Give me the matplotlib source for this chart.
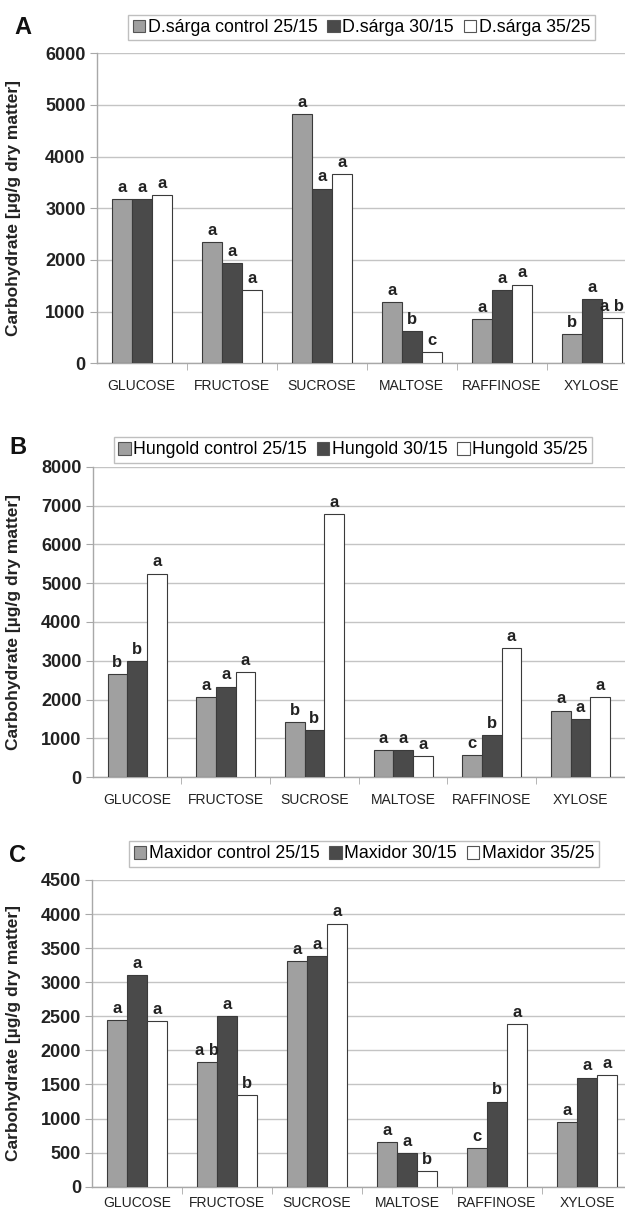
import matplotlib
matplotlib.use("Agg")
import matplotlib.pyplot as plt
from matplotlib.patches import Patch
import numpy as np

plt.rcParams['font.family'] = ['Liberation Sans', 'DejaVu Sans']

categories = ["GLUCOSE", "FRUCTOSE", "SUCROSE", "MALTOSE", "RAFFINOSE", "XYLOSE"]

# Panel A: D.sárga
a_series = ["D.sárga control 25/15", "D.sárga 30/15", "D.sárga 35/25"]
a_control = [3180, 2340, 4830, 1190, 855, 560]
a_30 = [3180, 1945, 3380, 625, 1410, 1235]
a_35 = [3250, 1410, 3670, 215, 1525, 880]
a_letters = [["a", "a", "a", "a", "a", "b"],
             ["a", "a", "a", "b", "a", "a"],
             ["a", "a", "a", "c", "a", "a b"]]

# Panel B: Hungold
b_series = ["Hungold control 25/15", "Hungold 30/15", "Hungold 35/25"]
b_control = [2660, 2070, 1430, 710, 575, 1720]
b_30 = [2990, 2335, 1215, 695, 1085, 1505]
b_35 = [5245, 2710, 6790, 555, 3330, 2060]
b_letters = [["b", "a", "b", "a", "c", "a"],
             ["b", "a", "b", "a", "b", "a"],
             ["a", "a", "a", "a", "a", "a"]]

# Panel C: Maxidor
c_series = ["Maxidor control 25/15", "Maxidor 30/15", "Maxidor 35/25"]
c_control = [2450, 1825, 3310, 650, 565, 950]
c_30 = [3105, 2505, 3380, 497, 1250, 1600]
c_35 = [2430, 1345, 3860, 225, 2380, 1640]
c_letters = [["a", "a b", "a", "a", "c", "a"],
             ["a", "a", "a", "a", "b", "a"],
             ["a", "b", "a", "b", "a", "a"]]

colors = ["#a0a0a0", "#4a4a4a", "#ffffff"]
edge = "#3a3a3a"
grid_c = "#c4c4c4"

W, H = 625, 1214
fig = plt.figure(figsize=(W / 100, H / 100), dpi=100)


def px_axes(left, top, right, bottom):
    return [left / W, 1 - bottom / H, (right - left) / W, (bottom - top) / H]


panels = [
    dict(rect=px_axes(96.7, 53.3, 636.7, 363.3), data=[a_control, a_30, a_35], letters=a_letters,
         series=a_series, ymax=6000, step=1000, label="A", lab_xy=(23, 28),
         leg=((130 + 593) / 2, 27.5), xpad=11),
    dict(rect=px_axes(92.7, 466.7, 624.7, 777.3), data=[b_control, b_30, b_35], letters=b_letters,
         series=b_series, ymax=8000, step=1000, label="B", lab_xy=(18, 447),
         leg=((117 + 589) / 2, 450), xpad=11),
    dict(rect=px_axes(92, 880, 632, 1186.7), data=[c_control, c_30, c_35], letters=c_letters,
         series=c_series, ymax=4500, step=500, label="C", lab_xy=(18, 855),
         leg=((133 + 595) / 2, 854), xpad=7),
]

x = np.arange(len(categories))
bw = 0.222
for p in panels:
    ax = fig.add_axes(p["rect"])
    ax.set_xlim(-0.5, len(categories) - 0.5)
    ax.set_ylim(0, p["ymax"])
    ax.set_yticks(np.arange(0, p["ymax"] + 1, p["step"]))
    ax.yaxis.grid(True, color=grid_c, linewidth=1.0)
    ax.set_axisbelow(True)
    handles = []
    for i, vals in enumerate(p["data"]):
        xs = x + (i - 1) * bw
        ax.bar(xs, vals, width=bw, color=colors[i], edgecolor=edge, linewidth=0.8, zorder=3)
        for xi, v, t in zip(xs, vals, p["letters"][i]):
            ax.annotate(t, (xi, v), xytext=(0, 3), textcoords="offset points",
                        ha="center", va="bottom", fontsize=12, fontweight="bold",
                        color="#222222", zorder=4)
        handles.append(Patch(facecolor=colors[i], edgecolor="#555555", linewidth=0.8,
                             label=p["series"][i]))
    for s in ["top", "right"]:
        ax.spines[s].set_visible(False)
    for s in ["left", "bottom"]:
        ax.spines[s].set_color("#a8a8a8")
        ax.spines[s].set_linewidth(1.0)
    ax.set_xticks(x)
    ax.set_xticklabels(categories, fontsize=10, color="#222222")
    ax.tick_params(axis="x", which="major", length=0, pad=p["xpad"])
    ax.set_xticks(np.arange(0.5, len(categories) - 0.5, 1), minor=True)
    ax.tick_params(axis="x", which="minor", length=5, color="#a8a8a8", direction="out")
    ax.tick_params(axis="y", length=5, color="#a8a8a8", labelsize=13, labelcolor="#222222", pad=3)
    for t in ax.get_yticklabels():
        t.set_fontweight("bold")
    ax.set_ylabel("Carbohydrate [µg/g dry matter]", fontsize=12.5, fontweight="bold", color="#222222")
    left_px = p["rect"][0] * W
    width_px = p["rect"][2] * W
    ax.yaxis.set_label_coords((21 - left_px) / width_px, 0.5)

    fig.text(p["lab_xy"][0] / W, 1 - p["lab_xy"][1] / H, p["label"], fontsize=17,
             fontweight="bold", ha="center", va="center", color="#111111")
    leg = fig.legend(handles=handles, loc="center",
                     bbox_to_anchor=(p["leg"][0] / W, 1 - p["leg"][1] / H),
                     ncol=3, fontsize=12.8, frameon=True, fancybox=False,
                     handlelength=0.7, handleheight=0.7, handletextpad=0.15,
                     columnspacing=0.55, borderpad=0.25, borderaxespad=0)
    leg.get_frame().set_edgecolor("#b0b0b0")
    leg.get_frame().set_linewidth(1.0)

fig.savefig("out.png", dpi=100)
